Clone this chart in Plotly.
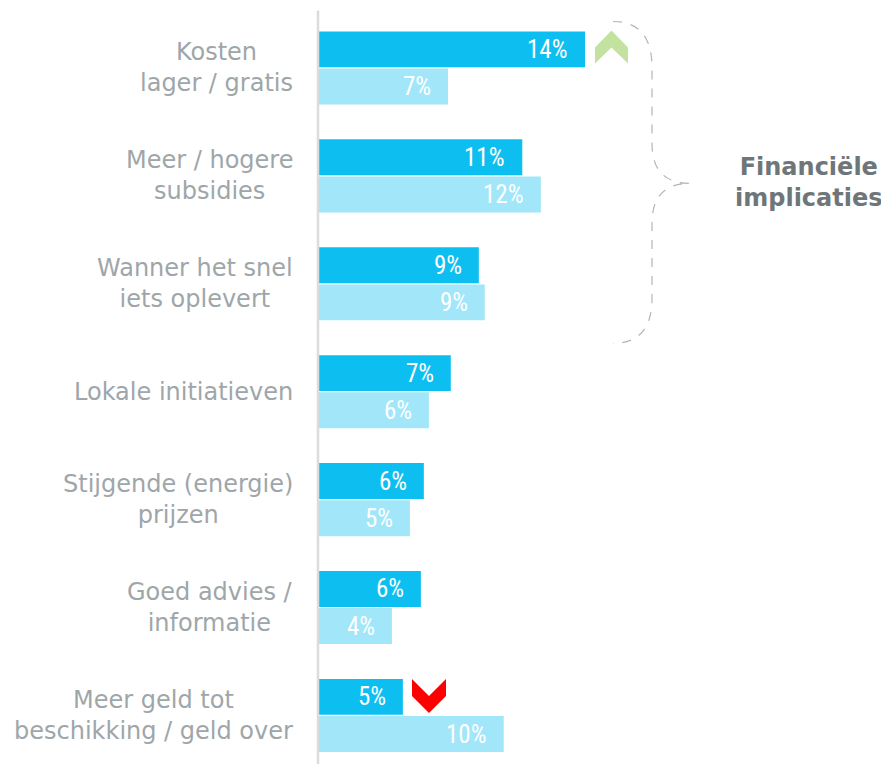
import plotly.graph_objects as go

categories = [
    "Kosten<br>lager / gratis",
    "Meer / hogere<br>subsidies",
    "Wanner het snel<br>iets oplevert",
    "Lokale initiatieven",
    "Stijgende (energie)<br>prijzen",
    "Goed advies /<br>informatie",
    "Meer geld tot<br>beschikking / geld over",
]
dark_values = [14.38, 11.0, 8.66, 7.15, 5.7, 5.54, 4.57]
light_values = [7.0, 12.0, 8.98, 5.97, 4.95, 3.98, 10.0]
dark_labels = ["14%", "11%", "9%", "7%", "6%", "6%", "5%"]
light_labels = ["7%", "12%", "9%", "6%", "5%", "4%", "10%"]
group_title = "Financiële<br>implicaties"

PAGE = 8  # browser body margin
W, H = 889 - PAGE, 764 - PAGE
ML, MR, MT, MB = 318 - PAGE, 0, 13.5 - PAGE, 0
PW, PH = W - ML - MR, H - MT - MB

def px(x):
    return (x - PAGE - ML) / PW

def py(y):
    return 1 - (y - PAGE - MT) / PH

DARK = "#0DBEF0"
LIGHT = "#A1E6F9"
OFF = 0.172
BW = 0.333

pos = list(range(len(categories)))
fig = go.Figure()
fig.add_trace(go.Bar(orientation="h", x=dark_values, y=[p - OFF for p in pos],
                     width=BW, marker=dict(color=DARK, line=dict(width=0)),
                     hoverinfo="skip"))
fig.add_trace(go.Bar(orientation="h", x=light_values, y=[p + OFF for p in pos],
                     width=BW, marker=dict(color=LIGHT, line=dict(width=0)),
                     hoverinfo="skip"))

ann = []
valfont = dict(family="Liberation Sans Narrow, Arial Narrow, Roboto Condensed, Liberation Sans, sans-serif",
               size=25, color="white")
for p, v, t in zip(pos, dark_values, dark_labels):
    ann.append(dict(x=v, y=p - OFF, xref="x", yref="y", text=t, showarrow=False,
                    xanchor="right", yanchor="middle", xshift=-15, font=valfont))
for p, v, t in zip(pos, light_values, light_labels):
    ann.append(dict(x=v, y=p + OFF, xref="x", yref="y", text=t, showarrow=False,
                    xanchor="right", yanchor="middle", xshift=-15, font=valfont))
for p, c in zip(pos, categories):
    ann.append(dict(x=px(295), y=p, xref="paper", yref="y", text=c, showarrow=False,
                    xanchor="right", yanchor="middle", align="center",
                    font=dict(family="DejaVu Sans", size=24, color="#9EA6A9")))
ann.append(dict(x=px(809), y=py(182), xref="paper", yref="paper", text="<b>" + group_title + "</b>",
                showarrow=False, xanchor="center", yanchor="middle", align="center",
                font=dict(family="DejaVu Sans", size=24, color="#6E7679")))

def path(points, close=True):
    s = "M " + " L ".join(f"{px(x):.5f},{py(y):.5f}" for x, y in points)
    return s + (" Z" if close else "")

shapes = []
# green up chevron
shapes.append(dict(type="path", xref="paper", yref="paper",
                   path=path([(595, 47), (611.5, 30), (628, 47), (628, 63), (611.5, 47), (595, 63)]),
                   fillcolor="#C4E29F", line=dict(width=0)))
# red down chevron
shapes.append(dict(type="path", xref="paper", yref="paper",
                   path=path([(412, 679), (429, 696), (446, 679), (446, 696), (429, 713), (412, 696)]),
                   fillcolor="#FF0000", line=dict(width=0)))
# dashed curly brace
def P(x, y):
    return f"{px(x):.5f},{py(y):.5f}"
brace = (f"M {P(613,21)} Q {P(652,21)} {P(652,67)} L {P(652,143)} "
         f"Q {P(652,183)} {P(690,183)} Q {P(652,183)} {P(652,223)} "
         f"L {P(652,298)} Q {P(652,343)} {P(613,343)}")
shapes.append(dict(type="path", xref="paper", yref="paper", path=brace,
                   line=dict(color="#B5B5B5", width=1.2, dash="dash")))
# axis line
shapes.append(dict(type="line", xref="paper", yref="paper", x0=0, x1=0, y0=py(764), y1=py(10),
                   line=dict(color="#DCDCDC", width=2.5)))

fig.update_layout(
    width=W, height=H, margin=dict(l=ML, r=MR, t=MT, b=MB),
    paper_bgcolor="white", plot_bgcolor="white",
    showlegend=False, barmode="overlay",
    xaxis=dict(range=[0, PW / 18.57], visible=False, fixedrange=True),
    yaxis=dict(range=[6.45, -0.5], visible=False, fixedrange=True),
    annotations=ann, shapes=shapes,
)
fig.write_html("out.html")
